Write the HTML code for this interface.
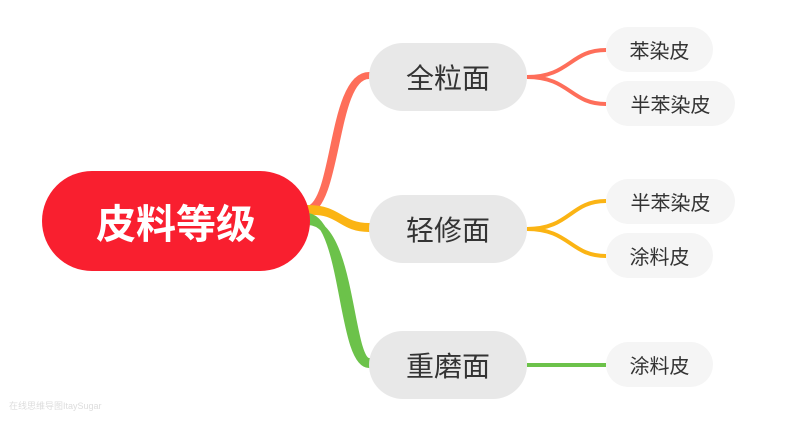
<!DOCTYPE html>
<html><head><meta charset="utf-8"><style>
body{margin:0;width:789px;height:422px;background:#fff;overflow:hidden;position:relative;font-family:"Liberation Sans","Noto Sans CJK SC",sans-serif}
.n{position:absolute;display:flex;align-items:center;justify-content:center;color:#333}
.r{left:42px;top:171px;width:268px;height:100px;border-radius:50px;background:#f91f2f;color:#fff;font-weight:bold;font-size:40px}
.l1{width:158px;height:68px;border-radius:34px;background:#e8e8e8;font-size:28px;left:369px}
.l2{height:45px;border-radius:23px;background:#f5f5f5;font-size:20px;left:606px}
</style></head><body>
<svg width="789" height="422" style="position:absolute;left:0;top:0">
<path d="M308 213 C340 205 335 77 369 77 L369 74 C330 74 335 200 308 208Z" fill="#fe6e5a" stroke="#fe6e5a" stroke-width="4"/>
<path d="M308 212 C340 210 340 229 369 229 L369 226 C340 226 340 208 308 208Z" fill="#fbb414" stroke="#fbb414" stroke-width="6"/>
<path d="M308 216 C345 222 340 365 369 365 L369 361 C350 361 352 222 308 222Z" fill="#6cc24a" stroke="#6cc24a" stroke-width="6"/>
<g fill="none" stroke-width="4">
<path d="M527 77 C570 77 570 50 606 50 M527 77 C570 77 570 104 606 104" stroke="#fe6e5a"/>
<path d="M527 229 C570 229 570 201 606 201 M527 229 C570 229 570 256 606 256" stroke="#fbb414"/>
<path d="M527 365 L606 365" stroke="#6cc24a"/>
</g>
</svg>
<div class="n r">皮料等级</div>
<div class="n l1" style="top:43px">全粒面</div>
<div class="n l1" style="top:195px">轻修面</div>
<div class="n l1" style="top:331px">重磨面</div>
<div class="n l2" style="top:27px;width:107px">苯染皮</div>
<div class="n l2" style="top:81px;width:129px">半苯染皮</div>
<div class="n l2" style="top:179px;width:129px">半苯染皮</div>
<div class="n l2" style="top:233px;width:107px">涂料皮</div>
<div class="n l2" style="top:342px;width:107px">涂料皮</div>
<div style="position:absolute;left:9px;top:399px;font-size:9px;color:#ddd">在线思维导图ItaySugar</div>
</body></html>
